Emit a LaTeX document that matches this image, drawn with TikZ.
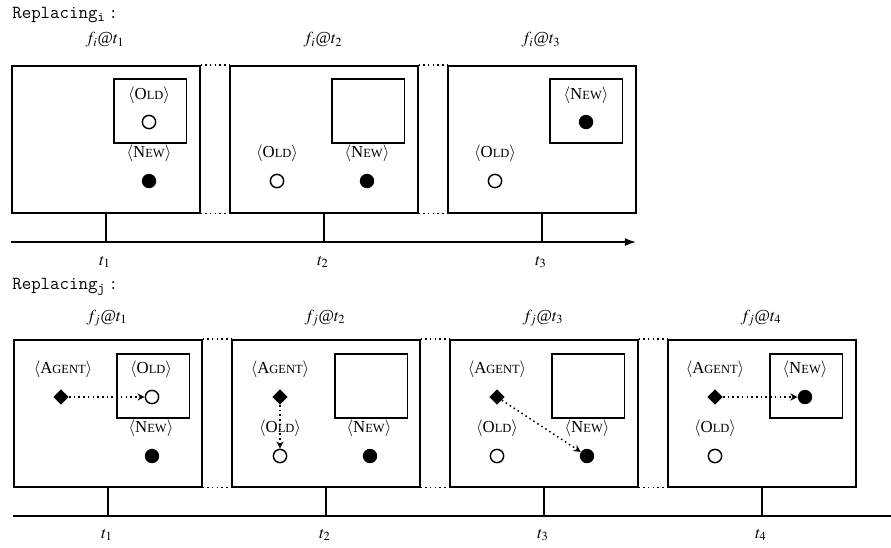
\documentclass[tikz,border=0pt]{standalone}
\usepackage{mathptmx}
\usepackage{fontspec}
\setmainfont{Liberation Serif}
\usetikzlibrary{arrows.meta,shapes.geometric}
\newcommand\angl[1]{$\langle$#1$\rangle$}
\newcommand\smcap[2]{#1{\fontsize{7.8}{8}\selectfont #2}}
\newcommand\OLD{\angl{\smcap{O}{LD}}}
\newcommand\NEW{\angl{\smcap{N}{EW}}}
\newcommand\AGENT{\angl{\smcap{A}{GENT}}}
\newcommand\ttitle[1]{{\fontsize{11.5}{12}\selectfont\texttt{Replacing}\textsubscript{\texttt{#1}}\,\texttt{:}}}
\begin{document}
\begin{tikzpicture}[x=0.625pt,y=-0.625pt,
  bigbox/.style={draw, line width=0.95pt, minimum width=117.5pt, minimum height=91.9pt, inner sep=0pt, anchor=north west},
  inbox/.style={draw, line width=0.95pt, minimum width=45.6pt, minimum height=40pt, inner sep=0pt, anchor=north west},
  oldc/.style={circle, draw, line width=0.9pt, fill=white, minimum size=8.3pt, inner sep=0pt},
  newc/.style={circle, fill=black, minimum size=9pt, inner sep=0pt},
  agent/.style={diamond, fill=black, minimum size=9.6pt, inner sep=0pt},
  lab/.style={inner sep=0pt, font=\fontsize{10.5}{12}\selectfont},
  conn/.style={dotted, line width=0.95pt},
  arr/.style={dotted, line width=0.95pt, -{Stealth[length=4.5pt,width=4.5pt]}},
  tickline/.style={line width=0.95pt},
  axis/.style={line width=0.95pt}]
\useasboundingbox (0,0) rectangle (891,547);

% ---------------- top row ----------------
\node[anchor=west, inner sep=0pt] (ti) at (12,15) {\ttitle{i}};

\node[bigbox] (a1) at (11,65) {};
\node[bigbox] (a2) at (229,65) {};
\node[bigbox] (a3) at (447,65) {};
\node[inbox] (ai1) at (113,78) {};
\node[inbox] (ai2) at (331,78) {};
\node[inbox] (ai3) at (549,78) {};

\node[lab] (fa1) at (105,40) {$f_i$@$t_1$};
\node[lab] (fa2) at (323,40) {$f_i$@$t_2$};
\node[lab] (fa3) at (541,40) {$f_i$@$t_3$};

\draw[conn] (a1.north east) -- (a2.north west);
\draw[conn] (a1.south east) -- (a2.south west);
\draw[conn] (a2.north east) -- (a3.north west);
\draw[conn] (a2.south east) -- (a3.south west);

% box 1
\node[lab] (a1ol) at (149,95) {\OLD};
\node[oldc] (a1oc) at (149,122) {};
\node[lab] (a1nl) at (149,153) {\NEW};
\node[newc] (a1nc) at (149,181) {};
% box 2
\node[lab] (a2ol) at (277,153) {\OLD};
\node[oldc] (a2oc) at (277,181) {};
\node[lab] (a2nl) at (367,153) {\NEW};
\node[newc] (a2nc) at (367,181) {};
% box 3
\node[lab] (a3nl) at (586,95) {\NEW};
\node[newc] (a3nc) at (586,122) {};
\node[lab] (a3ol) at (495,153) {\OLD};
\node[oldc] (a3oc) at (495,181) {};

% axis
\coordinate (axa0) at (11,242);
\coordinate (axa1) at (636,242);
\draw[axis, -{Latex[length=7pt,width=5pt]}] (axa0) -- (axa1);
\draw[tickline] (a1.south) -- (a1.south |- axa0);
\draw[tickline] (a2.south) -- (a2.south |- axa0);
\draw[tickline] (a3.south) -- (a3.south |- axa0);
\node[lab] (la1) at (105,262) {$t_1$};
\node[lab] (la2) at (323,262) {$t_2$};
\node[lab] (la3) at (541,262) {$t_3$};

% ---------------- bottom row ----------------
\node[anchor=west, inner sep=0pt] (tj) at (12,287) {\ttitle{j}};

\node[bigbox] (b1) at (13,339) {};
\node[bigbox] (b2) at (231,339) {};
\node[bigbox] (b3) at (449,339) {};
\node[bigbox] (b4) at (667,339) {};
\node[inbox] (bi1) at (116,353) {};
\node[inbox] (bi2) at (334,353) {};
\node[inbox] (bi3) at (551,353) {};
\node[inbox] (bi4) at (769,353) {};

\node[lab] (fb1) at (107,318) {$f_j$@$t_1$};
\node[lab] (fb2) at (325,318) {$f_j$@$t_2$};
\node[lab] (fb3) at (543,318) {$f_j$@$t_3$};
\node[lab] (fb4) at (761,318) {$f_j$@$t_4$};

\draw[conn] (b1.north east) -- (b2.north west);
\draw[conn] (b1.south east) -- (b2.south west);
\draw[conn] (b2.north east) -- (b3.north west);
\draw[conn] (b2.south east) -- (b3.south west);
\draw[conn] (b3.north east) -- (b4.north west);
\draw[conn] (b3.south east) -- (b4.south west);

% box 1
\node[lab] (b1al) at (63,369) {\AGENT};
\node[agent] (b1ag) at (61,397) {};
\node[lab] (b1ol) at (151,369) {\OLD};
\node[oldc] (b1oc) at (152,397) {};
\node[lab] (b1nl) at (151,428) {\NEW};
\node[newc] (b1nc) at (152,456) {};
\draw[arr] (b1ag) -- (b1oc);
% box 2
\node[lab] (b2al) at (280,369) {\AGENT};
\node[agent] (b2ag) at (280,397) {};
\node[lab] (b2ol) at (280,428) {\OLD};
\node[oldc] (b2oc) at (280,456) {};
\node[lab] (b2nl) at (369,428) {\NEW};
\node[newc] (b2nc) at (370,456) {};
\draw[arr] (b2ag) -- (b2oc);
% box 3
\node[lab] (b3al) at (497,369) {\AGENT};
\node[agent] (b3ag) at (497,397) {};
\node[lab] (b3ol) at (497,428) {\OLD};
\node[oldc] (b3oc) at (497,456) {};
\node[lab] (b3nl) at (587,428) {\NEW};
\node[newc] (b3nc) at (587,456) {};
\draw[arr] (b3ag) -- (b3nc);
% box 4
\node[lab] (b4al) at (715,369) {\AGENT};
\node[agent] (b4ag) at (715,397) {};
\node[lab] (b4nl) at (805,369) {\NEW};
\node[newc] (b4nc) at (805,397) {};
\node[lab] (b4ol) at (715,428) {\OLD};
\node[oldc] (b4oc) at (715,456) {};
\draw[arr] (b4ag) -- (b4nc);

% axis
\coordinate (axb0) at (13,516);
\coordinate (axb1) at (891,516);
\draw[axis] (axb0) -- (axb1);
\draw[tickline] (b1.south) -- (b1.south |- axb0);
\draw[tickline] (b2.south) -- (b2.south |- axb0);
\draw[tickline] (b3.south) -- (b3.south |- axb0);
\draw[tickline] (b4.south) -- (b4.south |- axb0);
\node[lab] (lb1) at (107,535) {$t_1$};
\node[lab] (lb2) at (325,535) {$t_2$};
\node[lab] (lb3) at (543,535) {$t_3$};
\node[lab] (lb4) at (761,535) {$t_4$};
\end{tikzpicture}
\end{document}
